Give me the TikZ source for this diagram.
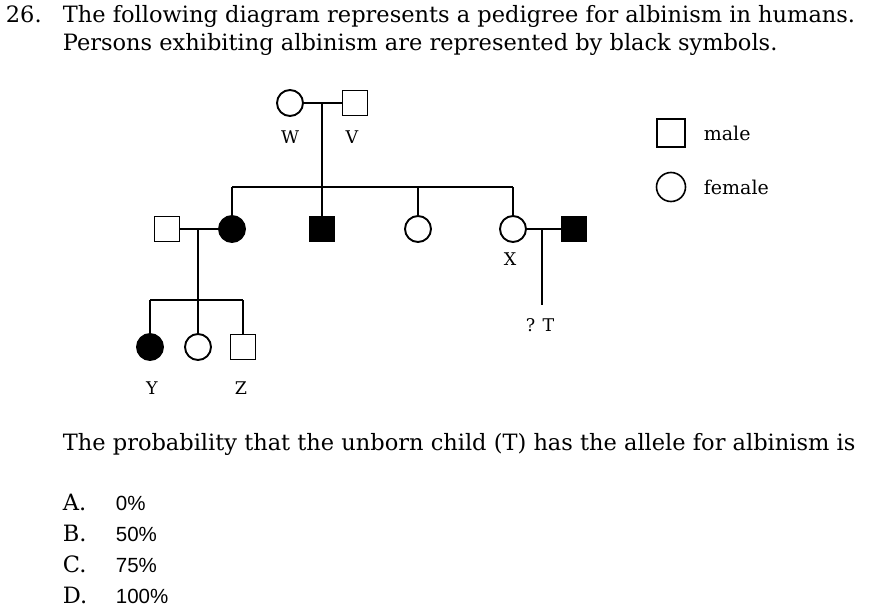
\documentclass[tikz,border=0pt]{standalone}
\usepackage{fontspec}
\setmainfont{DejaVu Serif}
\newfontfamily\sansf{Liberation Sans}
\begin{document}
\begin{tikzpicture}[x=1pt,y=-1pt,line width=1.8pt,
  fem/.style={circle,draw,minimum size=26pt,inner sep=0pt,line width=1.9pt},
  mal/.style={rectangle,draw,minimum size=25pt,inner sep=0pt,line width=1.9pt},
  aff/.style={fill=black},
  lab/.style={font=\fontsize{17.5}{20}\selectfont,inner sep=0pt},
  txt/.style={font=\fontsize{22.5}{26}\selectfont,anchor=base west,inner sep=0pt}]
\useasboundingbox (0,0) rectangle (884,613);
\node[txt] (n26) at (5,22) {26.};
\node[txt] (t1) at (62,22) {The following diagram represents a pedigree for albinism in humans.};
\node[txt] (t2) at (62,50) {Persons exhibiting albinism are represented by black symbols.};
% generation I
\node[fem] (W) at (290,103) {};
\node[mal] (V) at (355,103) {};
\draw (W) -- (V);
\node[lab] (lW) at (290,137) {W};
\node[lab] (lV) at (352,137) {V};
\coordinate (m1) at (322,103);
\coordinate (s1) at (322,187);
\draw (m1) -- (s1);
% generation II
\node[mal] (H) at (167,229) {};
\node[fem,aff] (A) at (232,229) {};
\node[mal,aff] (B) at (322,229) {};
\node[fem] (C) at (418,229) {};
\node[fem] (X) at (513,229) {};
\node[mal,aff] (S) at (574,229) {};
\coordinate (sl) at (232,187);
\coordinate (sr) at (513,187);
\draw (sl) -- (sr);
\draw (sl) -- (A.north);
\draw (s1) -- (B.north);
\draw (418,187) -- (C.north);
\draw (sr) -- (X.north);
\draw (H) -- (A);
\draw (X) -- (S);
\node[lab] (lX) at (510,259) {X};
\coordinate (m3) at (542,229);
\coordinate (t) at (542,305);
\draw (m3) -- (t);
\node[lab] (lT) at (540,325) {? T};
% generation III
\coordinate (m2) at (198,229);
\coordinate (c2) at (198,300);
\draw (m2) -- (c2);
\node[fem,aff] (Y) at (150,347) {};
\node[fem] (Z1) at (198,347) {};
\node[mal] (Z) at (243,347) {};
\draw (150,300) -- (243,300);
\draw (150,300) -- (Y.north);
\draw (c2) -- (Z1.north);
\draw (243,300) -- (Z.north);
\node[lab] (lY) at (152,388) {Y};
\node[lab] (lZ) at (241,388) {Z};
% legend
\node[mal,minimum size=28pt,line width=1.6pt] (Lm) at (671,133) {};
\node[fem,minimum size=29pt,line width=1.6pt] (Lf) at (671,187) {};
\node[lab,anchor=west,font=\fontsize{19}{22}\selectfont] (lm) at (703,133) {male};
\node[lab,anchor=west,font=\fontsize{19}{22}\selectfont] (lf) at (703,187) {female};
% question
\node[txt] (q) at (62,450) {The probability that the unborn child (T) has the allele for albinism is};
\node[txt] (oa) at (62,510) {A.};
\node[txt] (ob) at (62,541) {B.};
\node[txt] (oc) at (62,572) {C.};
\node[txt] (od) at (62,603) {D.};
\node[txt,font=\sansf\fontsize{20.5}{22}\selectfont] (va) at (115,510) {0\%};
\node[txt,font=\sansf\fontsize{20.5}{22}\selectfont] (vb) at (115,541) {50\%};
\node[txt,font=\sansf\fontsize{20.5}{22}\selectfont] (vc) at (115,572) {75\%};
\node[txt,font=\sansf\fontsize{20.5}{22}\selectfont] (vd) at (115,603) {100\%};
\end{tikzpicture}
\end{document}
